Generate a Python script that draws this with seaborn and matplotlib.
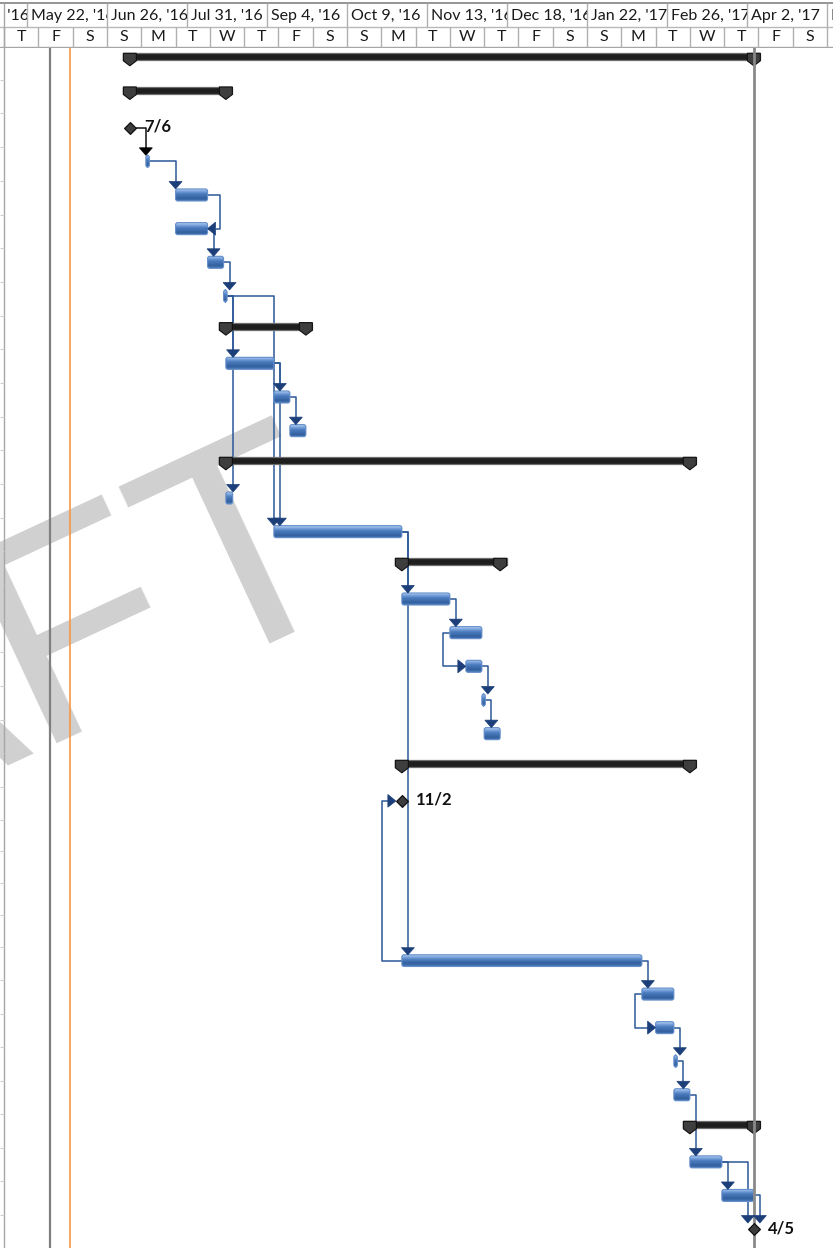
import matplotlib
matplotlib.use("Agg")
import matplotlib.pyplot as plt
import matplotlib.dates as mdates
from matplotlib.colors import LinearSegmentedColormap
from matplotlib.patches import FancyBboxPatch, Polygon, Rectangle
import numpy as np
import pandas as pd
import seaborn as sns

sns.set_theme(style="white")
plt.rcParams["font.family"] = ["Lato", "DejaVu Sans"]

# ---- schedule (one entry per table row) ----
kinds = ["summary", "summary", "milestone", "task", "task", "task", "task", "task",
         "summary", "task", "task", "task", "summary", "task", "task", "summary",
         "task", "task", "task", "task", "task", "summary", "milestone",
         None, None, None, None,
         "task", "task", "task", "task", "task", "summary", "task", "task", "milestone"]
starts = ["2016-07-06", "2016-07-06", "2016-07-06", "2016-07-13", "2016-07-26", "2016-07-26",
          "2016-08-09", "2016-08-16", "2016-08-17", "2016-08-17", "2016-09-07", "2016-09-14",
          "2016-08-17", "2016-08-17", "2016-09-07", "2016-11-02", "2016-11-02", "2016-11-23",
          "2016-11-30", "2016-12-07", "2016-12-08", "2016-11-02", "2016-11-02",
          None, None, None, None,
          "2016-11-02", "2017-02-15", "2017-02-21", "2017-03-01", "2017-03-01", "2017-03-08",
          "2017-03-08", "2017-03-22", "2017-04-05"]
finishes = ["2017-04-05", "2016-08-17", "2016-07-06", "2016-07-14", "2016-08-09", "2016-08-09",
            "2016-08-16", "2016-08-17", "2016-09-21", "2016-09-07", "2016-09-14", "2016-09-21",
            "2017-03-08", "2016-08-20", "2016-11-02", "2016-12-15", "2016-11-23", "2016-12-07",
            "2016-12-07", "2016-12-08", "2016-12-15", "2017-03-08", "2016-11-02",
            None, None, None, None,
            "2017-02-15", "2017-03-01", "2017-03-01", "2017-03-02", "2017-03-08", "2017-04-05",
            "2017-03-22", "2017-04-05", "2017-04-05"]

# dependencies: predecessor row -> successor row
link_from = [2, 3, 4, 5, 6, 7, 7, 7, 9, 9, 10, 14, 14, 16, 17, 18, 19, 27, 27, 28, 29, 30, 31, 33, 33, 34]
link_to = [3, 4, 5, 6, 7, 9, 13, 14, 10, 14, 11, 16, 27, 17, 18, 19, 20, 22, 28, 29, 30, 31, 33, 34, 35, 35]
link_type = ["FS", "FS", "FF", "FS", "FS", "FS", "FS", "FS", "FS", "FS", "FS", "FS", "FS",
             "FS", "SS", "FS", "FS", "SS", "FS", "SS", "FS", "FS", "FS", "FS", "FS", "FS"]

# vertical date lines (deadline / status / current date)
line_dates = ["2016-06-01", "2016-06-10", "2017-04-05"]

# timescale
top_tier_labels = ["Apr 17, '16", "May 22, '16", "Jun 26, '16", "Jul 31, '16", "Sep 4, '16",
                   "Oct 9, '16", "Nov 13, '16", "Dec 18, '16", "Jan 22, '17", "Feb 26, '17",
                   "Apr 2, '17", "May 7, '17"]
top_tier_first = "2016-04-17"
bottom_tier_labels = ["T", "F", "S", "S", "M", "T", "W", "T", "F", "S", "S", "M", "T",
                      "W", "T", "F", "S", "S", "M", "T", "W", "T", "F", "S", "S"]
bottom_tier_first = "2016-05-12"

# ---- layout helpers ----
W, H = 833, 1248
DAYS_PER_PX = 35 / 80
ROWS_PER_PX = 1 / 33.6


def px(n):
    return n * DAYS_PER_PX


def py(n):
    return n * ROWS_PER_PX


def num(d):
    return mdates.date2num(pd.Timestamp(d))


ref = num("2016-06-26")
xlim = (ref - px(107), ref + px(W - 107))

fig = plt.figure(figsize=(W / 100, H / 100), dpi=100)
HEAD = 46.7
ax = fig.add_axes([0, 0, 1, (H - HEAD) / H])
hx = fig.add_axes([0, (H - HEAD - 1) / H, 1, (HEAD + 1) / H])

# rows are not all the same height in the view -> piecewise row scale
row_knots = [-1, 0, 22, 27, 35, 36]
pix_knots = [26.6, 60.3, 801.0, 960.5, 1229.0, 1262.6]
ax.set_yscale("function", functions=(lambda r: np.interp(r, row_knots, pix_knots),
                                     lambda p: np.interp(p, pix_knots, row_knots)))
ax.set_xlim(*xlim)
ax.set_ylim(np.interp(H, pix_knots, row_knots), np.interp(HEAD, pix_knots, row_knots))
ax.axis("off")

s_num = [num(d) if d else None for d in starts]
f_num = [num(d) if d else None for d in finishes]


def left_edge(i):
    return s_num[i] - px(6) if kinds[i] == "milestone" else s_num[i]


def right_edge(i):
    if kinds[i] == "milestone":
        return s_num[i] + px(6)
    return max(f_num[i], s_num[i] + px(3.5))


# ---- watermark ----
ax.text(363 / W, 1 - 588 / H, "DRAFT", transform=fig.transFigure, rotation=25,
        rotation_mode="anchor", ha="right", va="baseline", fontsize=215,
        family="Liberation Sans", color="#d0d0d0", zorder=0.5)

# ---- left table edge and date lines ----
x_border = ref - px(103)
ax.axvline(x_border, color="#a6a6a6", lw=1, zorder=1)
ax.hlines(np.arange(-1, 36) + 0.58, xlim[0], x_border, color="#cfcfcf", lw=0.8, zorder=1)
ax.axvline(num(line_dates[0]), color="#7f7f7f", lw=1.6, zorder=1)
ax.axvline(num(line_dates[1]), color="#f79646", lw=1.2, zorder=1)
ax.axvline(num(line_dates[2]), color="#8a8a8a", lw=2.0, zorder=4)

# ---- bars ----
bar_aspect = py(1) / px(1)
bar_cmap = LinearSegmentedColormap.from_list(
    "bar", ["#a4c2ea", "#6f9ad6", "#4a7bbd", "#3f6eb0", "#33609e", "#4673b2"])
NB = 12
for i, k in enumerate(kinds):
    if k == "summary":
        s, f = s_num[i], f_num[i]
        ax.add_patch(Rectangle((s - px(6.5), i - py(7)), f - s + px(13), py(7),
                               fc="#1e1e1e", ec="#6e6e6e", lw=0.9, zorder=3))
        for c in (s, f):
            tri = [(c - px(6.5), i - py(7)), (c + px(6.5), i - py(7)), (c + px(6.5), i + py(0.5)),
                   (c, i + py(5.5)), (c - px(6.5), i + py(0.5))]
            ax.add_patch(Polygon(tri, closed=True, fc="#3e3e3e", ec="#101010", lw=0.8, zorder=3.3))
    elif k == "task":
        x0, x1 = left_edge(i), right_edge(i)
        h = py(12)
        style = f"round,pad=0,rounding_size={px(2.2)}"
        shape = FancyBboxPatch((x0, i - h / 2), x1 - x0, h, boxstyle=style,
                               mutation_aspect=bar_aspect, fc="#4677b8", ec="none", zorder=3)
        ax.add_patch(shape)
        for b in range(NB):
            band = Rectangle((x0, i - h / 2 + b * h / NB), x1 - x0, h / NB * 1.05,
                             fc=bar_cmap(b / (NB - 1)), ec="none", zorder=3.1)
            ax.add_patch(band)
            band.set_clip_path(shape)
        ax.add_patch(FancyBboxPatch((x0, i - h / 2), x1 - x0, h, boxstyle=style,
                                    mutation_aspect=bar_aspect, fc="none", ec="#6690cb",
                                    lw=0.8, zorder=3.2))

# ---- milestones ----
ms_rows = [i for i, k in enumerate(kinds) if k == "milestone"]
ms = pd.DataFrame({"x": [s_num[i] for i in ms_rows], "row": ms_rows})
sns.scatterplot(data=ms, x="x", y="row", marker="D", s=36, color="#3c3c3c",
                edgecolor="#111111", linewidth=0.9, ax=ax, zorder=5, legend=False)
ax.set_xlabel("")
ax.set_ylabel("")
for i in ms_rows:
    d = pd.Timestamp(starts[i])
    ax.text(s_num[i] + px(14), i - py(1), f"{d.month}/{d.day}", fontsize=12,
            fontweight="bold", va="center", ha="left", color="#111111", zorder=5)

# ---- links ----
LINE_BLUE, ARROW_BLUE = "#2c5898", "#1c3f7a"
for p, q, t in zip(link_from, link_to, link_type):
    lc, hc = (("#111111", "#000000") if kinds[p] == "milestone" else (LINE_BLUE, ARROW_BLUE))
    if t == "FS":
        xv = max(right_edge(p) + px(6), left_edge(q))
        pts = [(right_edge(p), p), (xv, p), (xv, q - py(13))]
        head = [(xv - px(6.5), q - py(13.5)), (xv + px(6.5), q - py(13.5)), (xv, q - py(6))]
    elif t == "FF":
        xv = max(f_num[p], f_num[q]) + px(12)
        pts = [(f_num[p], p), (xv, p), (xv, q), (f_num[q] + px(8), q)]
        head = [(f_num[q] + px(8), q - py(6.5)), (f_num[q] + px(8), q + py(6.5)), (f_num[q], q)]
    else:  # SS
        base = left_edge(q) - px(8)
        xv = min(s_num[p] - px(7), base - px(6))
        pts = [(s_num[p], p), (xv, p), (xv, q), (base, q)]
        head = [(base, q - py(6.5)), (base, q + py(6.5)), (left_edge(q), q)]
    xs, ys = zip(*pts)
    ax.plot(xs, ys, color=lc, lw=1.1, zorder=2.5, solid_capstyle="butt")
    ax.add_patch(Polygon(head, closed=True, fc=hc, ec=hc, lw=0.5, zorder=4.5))

# ---- timescale header ----
hx.set_xlim(*xlim)
hx.set_ylim(HEAD + 1, 0)
hx.axis("off")
top_starts = pd.date_range(top_tier_first, periods=len(top_tier_labels), freq="35D")
bot_starts = pd.date_range(bottom_tier_first, periods=len(bottom_tier_labels), freq="15D")
hx.axhline(3.3, color="#8c8c8c", lw=1.3)
hx.axhline(26.7, color="#b8b8b8", lw=1)
hx.axhline(HEAD, color="#a6a6a6", lw=1)
hx.vlines(mdates.date2num(top_starts), 3.3, 26.7, color="#b0b0b0", lw=1)
hx.vlines(mdates.date2num(bot_starts), 26.7, HEAD, color="#b0b0b0", lw=1)
hx.vlines([x_border], 3.3, HEAD + 1, color="#a6a6a6", lw=1)
for d, lab in zip(top_starts, top_tier_labels):
    x = mdates.date2num(d)
    t = hx.text(x + px(4.5), 15.6, lab, fontsize=11.5, ha="left", va="center",
                color="#1a1a1a", clip_on=True)
    c0 = max(x, x_border + px(1))
    t.set_clip_path(Rectangle((c0, 3.3), x + 35 - c0, 23.4, transform=hx.transData))
for d, lab in zip(bot_starts, bottom_tier_labels):
    x = mdates.date2num(d)
    hx.text(x + 7.5, 37.0, lab, fontsize=11.5, ha="center", va="center", color="#1a1a1a")

fig.savefig("out.png", dpi=100)
